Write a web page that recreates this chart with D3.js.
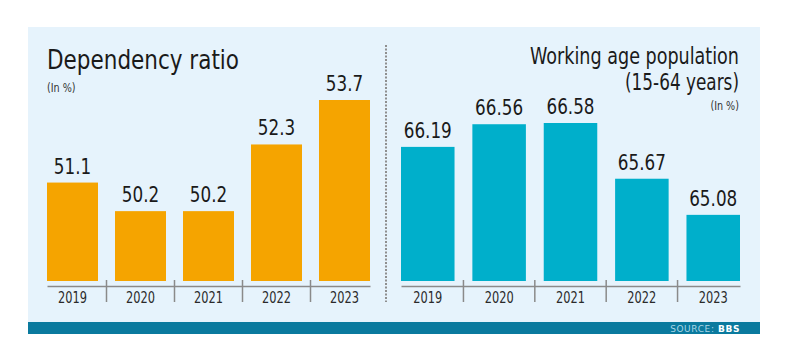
<!DOCTYPE html>
<html><head><meta charset="utf-8">
<script src="https://cdn.jsdelivr.net/npm/d3@7"></script>
<style>
html,body{margin:0;padding:0;background:#fff;}
svg{display:block;}
text{font-family:"DejaVu Sans",sans-serif;}
</style></head>
<body>
<svg id="chart" width="788" height="362"></svg>
<script>
const years = ["2019","2020","2021","2022","2023"];
const dependencyRatio = [51.1, 50.2, 50.2, 52.3, 53.7];
const dependencyLabels = ["51.1","50.2","50.2","52.3","53.7"];
const workingAge = [66.19, 66.56, 66.58, 65.67, 65.08];
const workingLabels = ["66.19","66.56","66.58","65.67","65.08"];

const svg = d3.select("#chart");
function condense(sel, f){
  sel.each(function(){
    const w = this.getComputedTextLength();
    d3.select(this).attr("textLength", w*f).attr("lengthAdjust","spacingAndGlyphs");
  });
}
svg.append("rect").attr("x",28).attr("y",27).attr("width",732).attr("height",307).attr("fill","#e6f3fc");
svg.append("rect").attr("x",28).attr("y",322).attr("width",732).attr("height",12).attr("fill","#0a7a9e");

function panel(opts){
  const x = d3.scaleBand().domain(years).range([opts.x0, opts.x1]).paddingInner(0.25).paddingOuter(0);
  const y = d3.scaleLinear().domain(opts.domain).range([281, opts.topY]);
  const g = svg.append("g");
  g.selectAll("rect.bar").data(opts.values).join("rect")
    .attr("x",(d,i)=>x(years[i])).attr("width",x.bandwidth())
    .attr("y",d=>y(d)).attr("height",d=>281-y(d)).attr("fill",opts.color);
  const vt = g.selectAll("text.val").data(opts.values).join("text")
    .attr("x",(d,i)=>x(years[i])+x.bandwidth()/2).attr("y",d=>y(d)-9)
    .attr("text-anchor","middle").attr("font-size",21).attr("fill","#1a1a1a")
    .text((d,i)=>opts.labels[i]);
  condense(vt, 0.8);
  const axis = d3.axisBottom(x).tickSize(0).tickPadding(6);
  const ag = g.append("g").attr("transform","translate(0,286)").call(axis);
  ag.select(".domain").attr("stroke","#8a8a8a").attr("stroke-width",1.5);
  const at = ag.selectAll("text").attr("font-size",15).attr("fill","#2a2a2a")
    .style("font-family",'"DejaVu Sans",sans-serif');
  condense(at, 0.76);
  const step = x.step();
  g.selectAll("line.sep").data(years.slice(1)).join("line")
    .attr("x1",d=>x(d)-(step-x.bandwidth())/2).attr("x2",d=>x(d)-(step-x.bandwidth())/2)
    .attr("y1",280).attr("y2",302).attr("stroke","#8a8a8a").attr("stroke-width",1.5);
}

panel({x0:47,x1:370,domain:[48,53.7],topY:100,values:dependencyRatio,labels:dependencyLabels,color:"#f5a400"});
panel({x0:401,x1:740,domain:[64,66.58],topY:123,values:workingAge,labels:workingLabels,color:"#00afcb"});

svg.append("line").attr("x1",386).attr("x2",386).attr("y1",45).attr("y2",302)
  .attr("stroke","#8f8f8f").attr("stroke-width",2).attr("stroke-dasharray","2,1.5");

svg.append("text").attr("x",47).attr("y",69).attr("font-size",26).attr("fill","#1a1a1a")
  .attr("textLength",192).attr("lengthAdjust","spacingAndGlyphs").text("Dependency ratio");
condense(svg.append("text").attr("x",47).attr("y",92).attr("font-size",12).attr("fill","#333").text("(In %)"), 0.8);
svg.append("text").attr("x",739).attr("y",64).attr("text-anchor","end").attr("font-size",23).attr("fill","#1a1a1a")
  .attr("textLength",209).attr("lengthAdjust","spacingAndGlyphs").text("Working age population");
svg.append("text").attr("x",739).attr("y",90).attr("text-anchor","end").attr("font-size",23).attr("fill","#1a1a1a")
  .attr("textLength",114).attr("lengthAdjust","spacingAndGlyphs").text("(15-64 years)");
condense(svg.append("text").attr("x",739).attr("y",110).attr("text-anchor","end").attr("font-size",12).attr("fill","#333").text("(In %)"), 0.8);

const src = svg.append("text").attr("x",740).attr("y",331.5).attr("text-anchor","end")
  .attr("font-size",9).attr("letter-spacing",0.6);
src.append("tspan").attr("fill","#a9d6e6").text("SOURCE: ");
src.append("tspan").attr("fill","#ffffff").attr("font-weight","bold").text("BBS");
</script>
</body></html>
